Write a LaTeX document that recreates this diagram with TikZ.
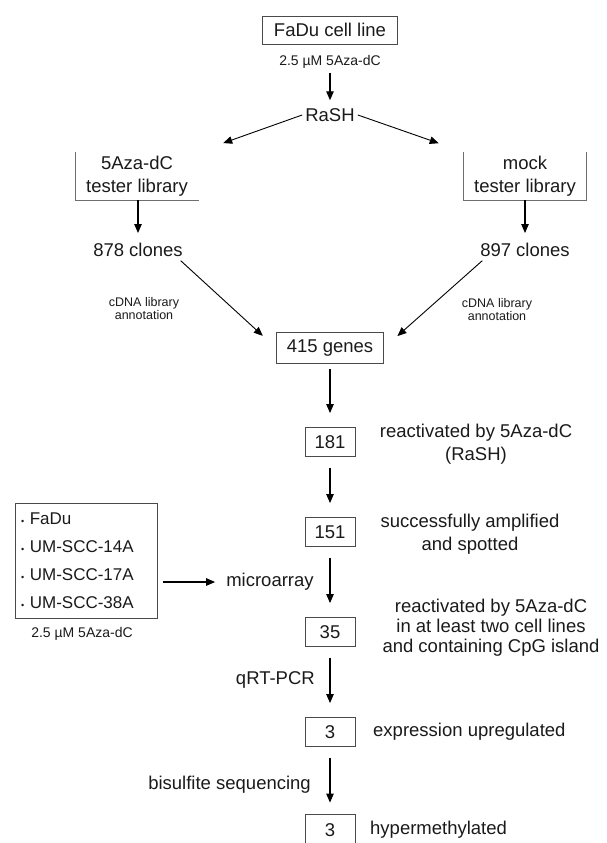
\documentclass[tikz,border=0pt]{standalone}
\usepackage{fontspec}
\setmainfont{Liberation Sans}
\usepackage{tikz}
\usetikzlibrary{arrows.meta, positioning, calc}
\definecolor{lineA}{HTML}{4A4A4A}
\definecolor{textA}{HTML}{1A1A1A}
\tikzset{
  txt/.style={
    text=textA, align=center, inner sep=3pt,
    font=\fontsize{18.5}{23}\selectfont
  },
  smalltxt/.style={
    text=textA, align=center, inner sep=2pt,
    font=\fontsize{#1}{13}\selectfont
  },
  numbox/.style={
    txt, draw=lineA, line width=0.9pt,
    minimum width=50pt, minimum height=29pt
  },
  libbox/.style={
    txt, minimum width=123pt, minimum height=48pt
  },
  arrow/.style={-{Triangle[length=9pt,width=7.5pt]}, line width=1.1pt, black},
  colarrow/.style={arrow, shorten >=14pt, shorten <=11pt},
  openedge/.style={draw=lineA!80, line width=0.9pt}
}

\begin{document}
\begin{tikzpicture}[x=1pt, y=-1pt]
  \useasboundingbox (0,0) rectangle (606,843);
  % top part: RaSH
  \node[txt, draw=lineA, line width=0.9pt, minimum width=135pt, minimum height=28pt] (fadu) at (330,30) {FaDu cell line};
  \node[smalltxt=14] (dose) at (330,62) {2.5 µM 5Aza-dC};
  \node[txt] (rash) at (330,115) {RaSH};
  \node[libbox] (lib5aza) at (137,176) {5Aza-dC\\tester library};
  \node[libbox] (libmock) at (525,176) {mock\\tester library};
  \draw[openedge] (lib5aza.north west) |- (lib5aza.south east);
  \draw[openedge] (libmock.north west) |- (libmock.south east) -- (libmock.north east);
  \node[txt] (clones878) at (138,250) {878 clones};
  \node[txt] (clones897) at (525,250) {897 clones};
  \node[smalltxt=12.5] (ann5aza) at (144,309) {cDNA library\\annotation};
  \node[smalltxt=12.5] (annmock) at (497,310) {cDNA library\\annotation};
  \node[numbox, minimum width=107pt, minimum height=31pt] (genes) at (330,348) {415 genes};

  \draw[arrow, shorten <=2pt, shorten >=5pt] (dose) -- (rash);
  \draw[arrow, line width=0.9pt, shorten >=26pt] (rash.west) -- (lib5aza.north east);
  \draw[arrow, line width=0.9pt, shorten >=26pt] (rash.east) -- (libmock.north west);
  \draw[arrow, shorten >=7pt] (clones878.north |- lib5aza.south) -- (clones878.north);
  \draw[arrow, shorten >=7pt] (clones897.north |- libmock.south) -- (clones897.north);
  \draw[arrow, line width=0.9pt, shorten <=1pt, shorten >=18pt] ([xshift=-6pt]clones878.south east) -- (genes.west);
  \draw[arrow, line width=0.9pt, shorten <=1pt, shorten >=18pt] ([xshift=6pt]clones897.south west) -- (genes.east);

  % filtering steps
  \node[numbox] (n181) at (330,442) {181};
  \node[txt, inner sep=1pt] (lab181) at (476,444) {reactivated by 5Aza-dC\\(RaSH)};
  \node[numbox] (n151) at (330,532) {151};
  \node[txt, inner sep=1pt] (lab151) at (470,534) {successfully amplified\\and spotted};
  \node[numbox] (n35) at (330,632) {35};
  \node[txt, inner sep=1pt, font=\fontsize{18.5}{20}\selectfont] (lab35) at (491,628)
    {reactivated by 5Aza-dC\\in at least two cell lines\\and containing CpG island};
  \node[numbox] (n3a) at (330,732) {3};
  \node[txt, anchor=west] (lab3a) at (370,732) {expression upregulated};
  \node[numbox, minimum height=32pt] (n3b) at (330,830) {3};
  \node[txt, anchor=west] (lab3b) at (367,830) {hypermethylated};

  \node[txt, draw=lineA, line width=0.9pt, align=left, text width=130pt, inner xsep=6pt,
        minimum height=115pt, font=\fontsize{17}{28}\selectfont] (cells) at (86,561)
    {{\fontsize{9}{9}\selectfont•} FaDu\\
     {\fontsize{9}{9}\selectfont•} UM-SCC-14A\\
     {\fontsize{9}{9}\selectfont•} UM-SCC-17A\\
     {\fontsize{9}{9}\selectfont•} UM-SCC-38A};
  \node[smalltxt=14] (celldose) at (82,634) {2.5 µM 5Aza-dC};
  \node[txt] (micro) at (270,582) {microarray};
  \node[txt, anchor=east] (qrt) at (318,680) {qRT-PCR};
  \node[txt, anchor=east] (bisul) at (314,785) {bisulfite sequencing};

  \draw[colarrow, shorten <=5pt] (genes) -- (n181);
  \draw[colarrow] (n181) -- (n151);
  \draw[colarrow] (n151) -- (n35);
  \draw[colarrow] (n35) -- (n3a);
  \draw[colarrow, shorten >=11pt] (n3a) -- (n3b);
  \draw[arrow, shorten <=6pt, shorten >=8pt] (cells.east |- micro.west) -- (micro.west);
\end{tikzpicture}
\end{document}
